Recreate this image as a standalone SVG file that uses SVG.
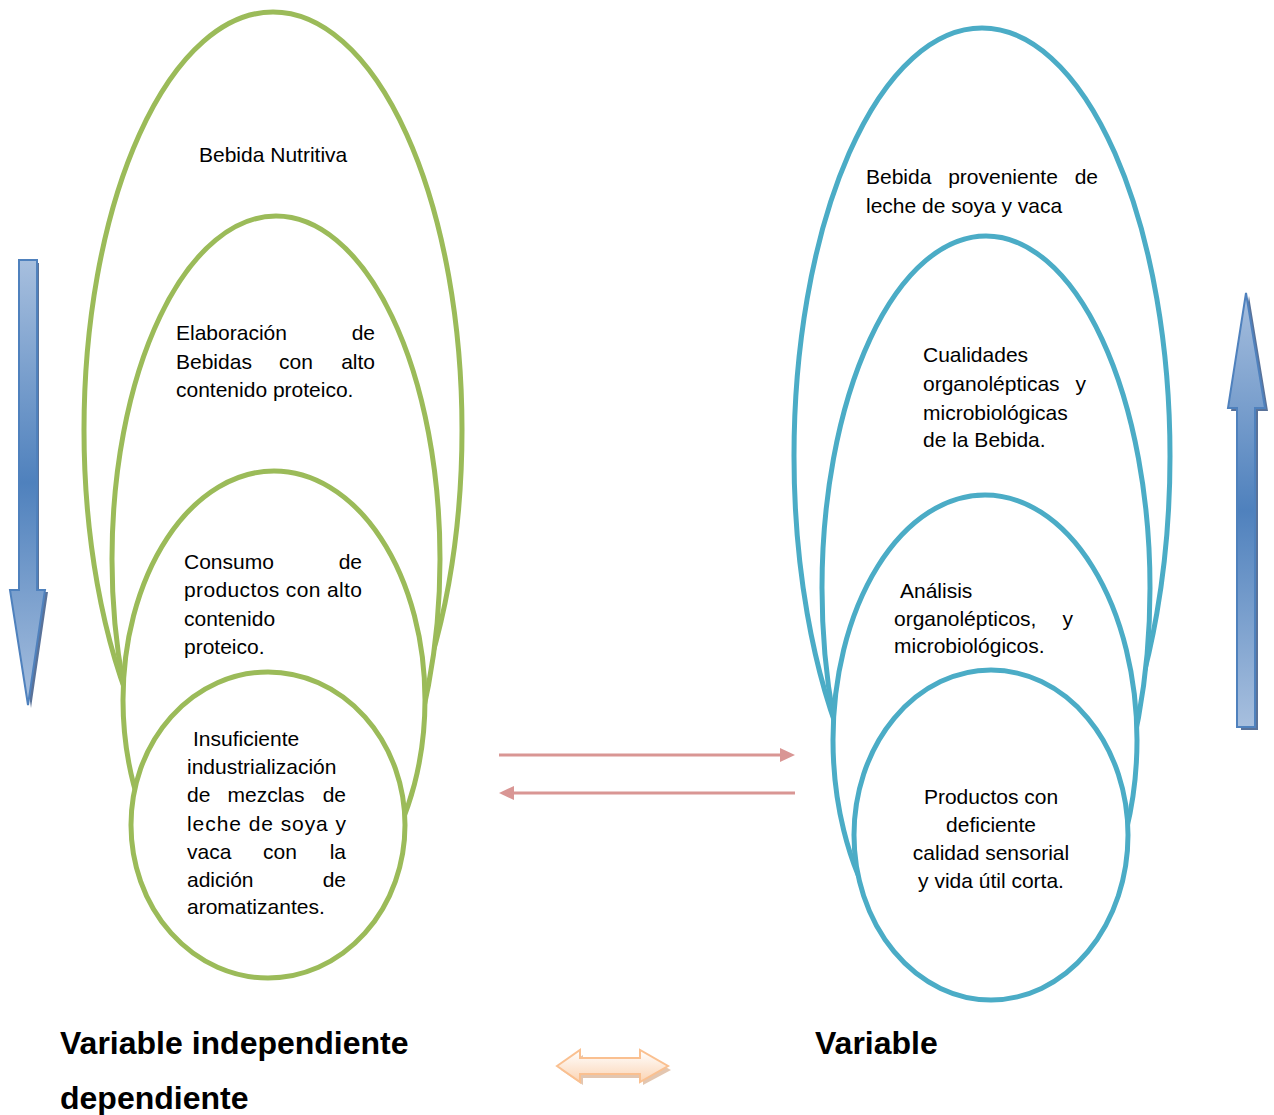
<svg xmlns="http://www.w3.org/2000/svg" width="1274" height="1115" viewBox="0 0 1274 1115">
<defs>
<style>
.g{fill:#fff;stroke:#9BBB59;stroke-width:5}
.b{fill:#fff;stroke:#4BACC6;stroke-width:5}
.t{font-family:"Liberation Sans",Arial,sans-serif;font-size:21px;fill:#000}
.h{font-family:"Liberation Sans",Arial,sans-serif;font-size:32px;font-weight:bold;fill:#000}
.c{stroke:#D99694;stroke-width:3;fill:none}
</style>
<linearGradient id="blueV" x1="0" y1="0" x2="0" y2="1">
<stop offset="0" stop-color="#A7BFDE"/>
<stop offset="0.5" stop-color="#4F81BD"/>
<stop offset="1" stop-color="#A7BFDE"/>
</linearGradient>
<linearGradient id="peach" x1="0" y1="0" x2="0" y2="1">
<stop offset="0" stop-color="#FFFFFF"/>
<stop offset="1" stop-color="#FBD4B4"/>
</linearGradient>
</defs>
<rect width="1274" height="1115" fill="#fff"/>

<g id="left-arrow">
<path d="M22,263 H39 V592 H48 L31,708 L14,592 H22 Z" fill="#2F4F7F" opacity="0.8"/>
<path d="M19,260 H37 V590 H45 L28,705 L10,590 H19 Z" fill="url(#blueV)" stroke="#4F81BD" stroke-width="2"/>
</g>
<g id="right-arrow">
<path d="M1249,296 L1268,411 H1258 V730 H1241 V411 H1231 Z" fill="#2F4F7F" opacity="0.8"/>
<path d="M1246,293 L1265,408 H1255 V727 H1237 V408 H1228 Z" fill="url(#blueV)" stroke="#4F81BD" stroke-width="2"/>
</g>

<g id="node-bebida-nutritiva">
<ellipse class="g" cx="273" cy="430" rx="189" ry="418"/>
<text class="t" x="199" y="162">Bebida Nutritiva</text>
</g>
<g id="node-elaboracion">
<ellipse class="g" cx="276" cy="559" rx="164" ry="343"/>
<text class="t" x="176" y="340">Elaboración</text>
<text class="t" x="375" y="340" text-anchor="end">de</text>
<text class="t" x="176" y="369">Bebidas</text>
<text class="t" x="296" y="369" text-anchor="middle">con</text>
<text class="t" x="375" y="369" text-anchor="end">alto</text>
<text class="t" x="176" y="397">contenido proteico.</text>
</g>
<g id="node-consumo">
<ellipse class="g" cx="274" cy="700" rx="151" ry="229"/>
<text class="t" x="184" y="569">Consumo</text>
<text class="t" x="362" y="569" text-anchor="end">de</text>
<text class="t" x="184" y="597" textLength="178" lengthAdjust="spacing">productos con alto</text>
<text class="t" x="184" y="626">contenido</text>
<text class="t" x="184" y="654">proteico.</text>
</g>
<g id="node-insuficiente">
<ellipse class="g" cx="268" cy="825" rx="137" ry="153"/>
<text class="t" x="193" y="746">Insuficiente</text>
<text class="t" x="187" y="774">industrialización</text>
<text class="t" x="187" y="802">de</text>
<text class="t" x="266" y="802" text-anchor="middle">mezclas</text>
<text class="t" x="346" y="802" text-anchor="end">de</text>
<text class="t" x="187" y="831" textLength="159" lengthAdjust="spacing">leche de soya y</text>
<text class="t" x="187" y="859">vaca</text>
<text class="t" x="280" y="859" text-anchor="middle">con</text>
<text class="t" x="346" y="859" text-anchor="end">la</text>
<text class="t" x="187" y="887">adición</text>
<text class="t" x="346" y="887" text-anchor="end">de</text>
<text class="t" x="187" y="914">aromatizantes.</text>
</g>

<g id="node-bebida-proveniente">
<ellipse class="b" cx="982" cy="456" rx="188" ry="428"/>
<text class="t" x="866" y="184">Bebida</text>
<text class="t" x="1003" y="184" text-anchor="middle">proveniente</text>
<text class="t" x="1098" y="184" text-anchor="end">de</text>
<text class="t" x="866" y="213">leche de soya y vaca</text>
</g>
<g id="node-cualidades">
<ellipse class="b" cx="986" cy="588" rx="164" ry="352"/>
<text class="t" x="923" y="362">Cualidades</text>
<text class="t" x="923" y="391">organolépticas</text>
<text class="t" x="1086" y="391" text-anchor="end">y</text>
<text class="t" x="923" y="420">microbiológicas</text>
<text class="t" x="923" y="447">de la Bebida.</text>
</g>
<g id="node-analisis">
<ellipse class="b" cx="985" cy="740" rx="152" ry="245"/>
<text class="t" x="900" y="598">Análisis</text>
<text class="t" x="894" y="626">organolépticos,</text>
<text class="t" x="1073" y="626" text-anchor="end">y</text>
<text class="t" x="894" y="653">microbiológicos.</text>
</g>
<g id="node-productos">
<ellipse class="b" cx="991" cy="835" rx="137" ry="165"/>
<text class="t" x="991" y="804" text-anchor="middle">Productos con</text>
<text class="t" x="991" y="832" text-anchor="middle">deficiente</text>
<text class="t" x="991" y="860" text-anchor="middle">calidad sensorial</text>
<text class="t" x="991" y="888" text-anchor="middle">y vida útil corta.</text>
</g>

<g id="connectors">
<line class="c" x1="499" y1="755" x2="782" y2="755"/>
<path d="M780,748 L795,755 L780,762 Z" fill="#D99694"/>
<line class="c" x1="795" y1="793" x2="512" y2="793"/>
<path d="M514,786 L499,793 L514,800 Z" fill="#D99694"/>
</g>

<g id="double-arrow">
<path d="M561,1070 L583,1055 V1062 H643 V1055 L671,1070 L643,1085 V1078 H583 V1085 Z" fill="#C08050" opacity="0.45"/>
<path d="M557,1066 L580,1050 V1058 H640 V1050 L668,1066 L640,1082 V1074 H580 V1082 Z" fill="url(#peach)" stroke="#FAC090" stroke-width="2"/>
</g>

<text class="h" x="60" y="1054">Variable independiente</text>
<text class="h" x="60" y="1109">dependiente</text>
<text class="h" x="815" y="1054">Variable</text>
</svg>
